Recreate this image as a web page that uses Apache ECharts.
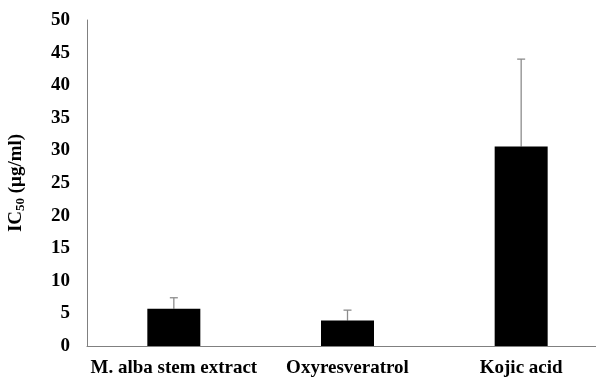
<!DOCTYPE html>
<html><head><meta charset="utf-8">
<script src="https://cdn.jsdelivr.net/npm/echarts@6/dist/echarts.min.js"></script>
<style>html,body{margin:0;padding:0;background:#fff}#c{width:596px;height:378px}</style>
</head><body><div id="c"></div>
<script>
var categories = ['M. alba stem extract', 'Oxyresveratrol', 'Kojic acid'];
var values = [5.7, 3.9, 30.6];
var errorsUp = [1.7, 1.6, 13.4];

var chart = echarts.init(document.getElementById('c'));
var errData = categories.map(function (c, i) { return [i, values[i], values[i] + errorsUp[i]]; });
chart.setOption({
  animation: false,
  grid: { left: 87, width: 521, top: 20, bottom: 32, containLabel: false, outerBoundsMode: 'none' },
  xAxis: {
    type: 'category', data: categories,
    axisLine: { lineStyle: { color: '#808080', width: 1 } },
    axisTick: { show: false },
    axisLabel: { color: '#000', fontFamily: 'Liberation Serif', fontWeight: 'bold', fontSize: 19, margin: 13, interval: 0 }
  },
  yAxis: {
    type: 'value', min: 0, max: 50, interval: 5,
    name: '{a|IC}{b|50}{a| (μg/ml)}', nameLocation: 'middle', nameGap: 60, nameRotate: 90,
    nameTextStyle: { rich: {
      a: { fontFamily: 'Liberation Serif', fontWeight: 'bold', fontSize: 19, color: '#000' },
      b: { fontFamily: 'Liberation Serif', fontWeight: 'bold', fontSize: 13, color: '#000', verticalAlign: 'bottom', padding: [8, 0, 0, 0] }
    } },
    axisLine: { show: true, lineStyle: { color: '#808080', width: 1 } },
    axisTick: { show: false },
    splitLine: { show: false },
    axisLabel: { color: '#000', fontFamily: 'Liberation Serif', fontWeight: 'bold', fontSize: 19, margin: 17 }
  },
  series: [
    { type: 'bar', data: values, barWidth: 53, itemStyle: { color: '#000' } },
    {
      type: 'custom', data: errData, z: 1,
      renderItem: function (params, api) {
        var x = api.value(0);
        var p1 = api.coord([x, api.value(1)]);
        var p2 = api.coord([x, api.value(2)]);
        var style = { stroke: '#8c8c8c', lineWidth: 1.3 };
        return { type: 'group', children: [
          { type: 'line', shape: { x1: p1[0], y1: p1[1], x2: p2[0], y2: p2[1] }, style: style },
          { type: 'line', shape: { x1: p2[0] - 4, y1: p2[1], x2: p2[0] + 4, y2: p2[1] }, style: style }
        ] };
      }
    }
  ]
});
</script></body></html>
